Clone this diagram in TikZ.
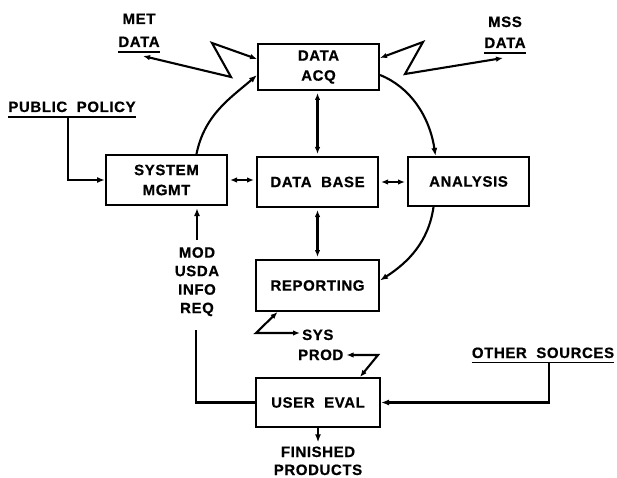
\documentclass[tikz,border=0pt]{standalone}
\usepackage{fontspec}
\setmainfont{Liberation Sans}[LetterSpace=4, WordSpace=2, BoldFeatures={FakeBold=0.6}]
\usetikzlibrary{arrows.meta,calc}
\newcommand\lbl{\fontsize{15}{20}\selectfont\bfseries}
\tikzset{
  box/.style={draw, line width=2pt, minimum width=121pt, minimum height=48pt, inner sep=0pt, align=center, font=\lbl},
  lab/.style={inner sep=0pt, align=center, font=\lbl},
  ln/.style={line width=2.1pt},
  arr/.style={ln, -{Latex[length=8pt,width=6pt]}},
  darr/.style={ln, {Latex[length=7pt,width=5.5pt]}-{Latex[length=7pt,width=5.5pt]}},
  ul/.style={line width=1.8pt}
}
\begin{document}
\begin{tikzpicture}[x=1pt,y=-1pt]
\useasboundingbox (0,0) rectangle (617,478);
% boxes
\node[box, minimum width=121pt, minimum height=46pt] (acq) at (318.5,67) {DATA\\ACQ};
\node[box, minimum height=50pt] (sm) at (166.5,180) {SYSTEM\\MGMT};
\node[box, minimum height=50pt] (db) at (317.5,182) {DATA BASE};
\node[box, minimum height=49pt] (an) at (468.5,181.5) {ANALYSIS};
\node[box, minimum width=123pt, minimum height=51pt] (rep) at (317.5,285.5) {REPORTING};
\node[box, minimum width=124pt, minimum height=49pt] (ue) at (318,402.5) {USER EVAL};
% labels
\node[lab, anchor=base] (metl) at (139,24) {MET};
\node[lab, anchor=base] (metd) at (139,47) {DATA};
\node[lab, anchor=base] (mssl) at (505,27) {MSS};
\node[lab, anchor=base] (mssd) at (505,48) {DATA};
\node[lab, anchor=base] (pub) at (72,112) {PUBLIC POLICY};
\node[lab, anchor=north, font=\fontsize{15}{18.5}\selectfont\bfseries] (mod) at (197,247) {MOD\\USDA\\INFO\\REQ};
\node[lab, anchor=base west] (sys) at (302,340) {SYS};
\node[lab, anchor=base west] (prod) at (298,360) {PROD};
\node[lab, anchor=base] (oth) at (543,358) {OTHER SOURCES};
\node[lab, anchor=base] (fin1) at (318,457) {FINISHED};
\node[lab, anchor=base] (fin2) at (318,475) {PRODUCTS};
% underlines
\draw[ul] ([yshift=-5pt]metd.base west) -- ([yshift=-5pt]metd.base east);
\draw[ul] ([yshift=-5pt]mssd.base west) -- ([yshift=-5pt]mssd.base east);
\draw[ul] ([yshift=-5pt]pub.base west) -- ([yshift=-5pt]pub.base east);
\draw[ul] ([yshift=-4.5pt]oth.base west) -- ([yshift=-4.5pt]oth.base east);
% free-end and bend coordinates
\coordinate (metend) at (143,56);
\coordinate (mb1) at (231,77);
\coordinate (mb2) at (212,43);
\coordinate (mssend) at (503,58);
\coordinate (ms1) at (423,42);
\coordinate (ms2) at (405,74);
\coordinate (pubu) at (68,117);
\coordinate (othu) at (549,362);
\coordinate (modend) at (196,330);
\coordinate (sysc) at (256,333);
\coordinate (prodc) at (378,355);
% lightning links
\draw[darr] (metend) -- (mb1) -- (mb2) -- ([yshift=8pt]acq.west);
\draw[darr] ([yshift=9pt]acq.east) -- (ms1) -- (ms2) -- (mssend);
% curved links
\draw[arr] ([xshift=30pt]sm.north) .. controls +(8,-40) and +(-25,22) .. ([yshift=-8pt]acq.west);
\draw[arr] ([yshift=-8pt]acq.east) .. controls +(30,12) and +(-6,-40) .. ([xshift=-33pt]an.north);
\draw[arr] ([xshift=-35pt]an.south) .. controls +(-5,35) and +(28,-18) .. ([yshift=5pt]rep.east);
% straight double links
\draw[darr, shorten <=2pt, shorten >=2pt] (db.north |- acq.south) -- (db.north);
\draw[darr, shorten <=2pt, shorten >=2pt] (sm.east) -- (sm.east -| db.west);
\draw[darr, shorten <=2pt, shorten >=2pt] (db.east) -- (db.east -| an.west);
\draw[darr, shorten <=2pt, shorten >=2pt] (db.south) -- (rep.north);
% inputs
\draw[arr] (pubu) |- (sm.west);
\draw[arr] (othu) |- (ue.east);
\draw[arr, shorten <=7pt, shorten >=2pt] (mod.north) -- (mod.north |- sm.south);
\draw[ln] (ue.west) -| (modend);
% SYS PROD
\draw[darr, shorten >=2pt] ([xshift=-40pt]rep.south) -- (sysc) -- (sysc -| sys.west);
\draw[darr, shorten <=3pt] (prodc -| prod.east) -- (prodc) -- ([xshift=42pt]ue.north);
% finished
\draw[arr, shorten >=4pt] (ue.south) -- (fin1.north);
\end{tikzpicture}
\end{document}
